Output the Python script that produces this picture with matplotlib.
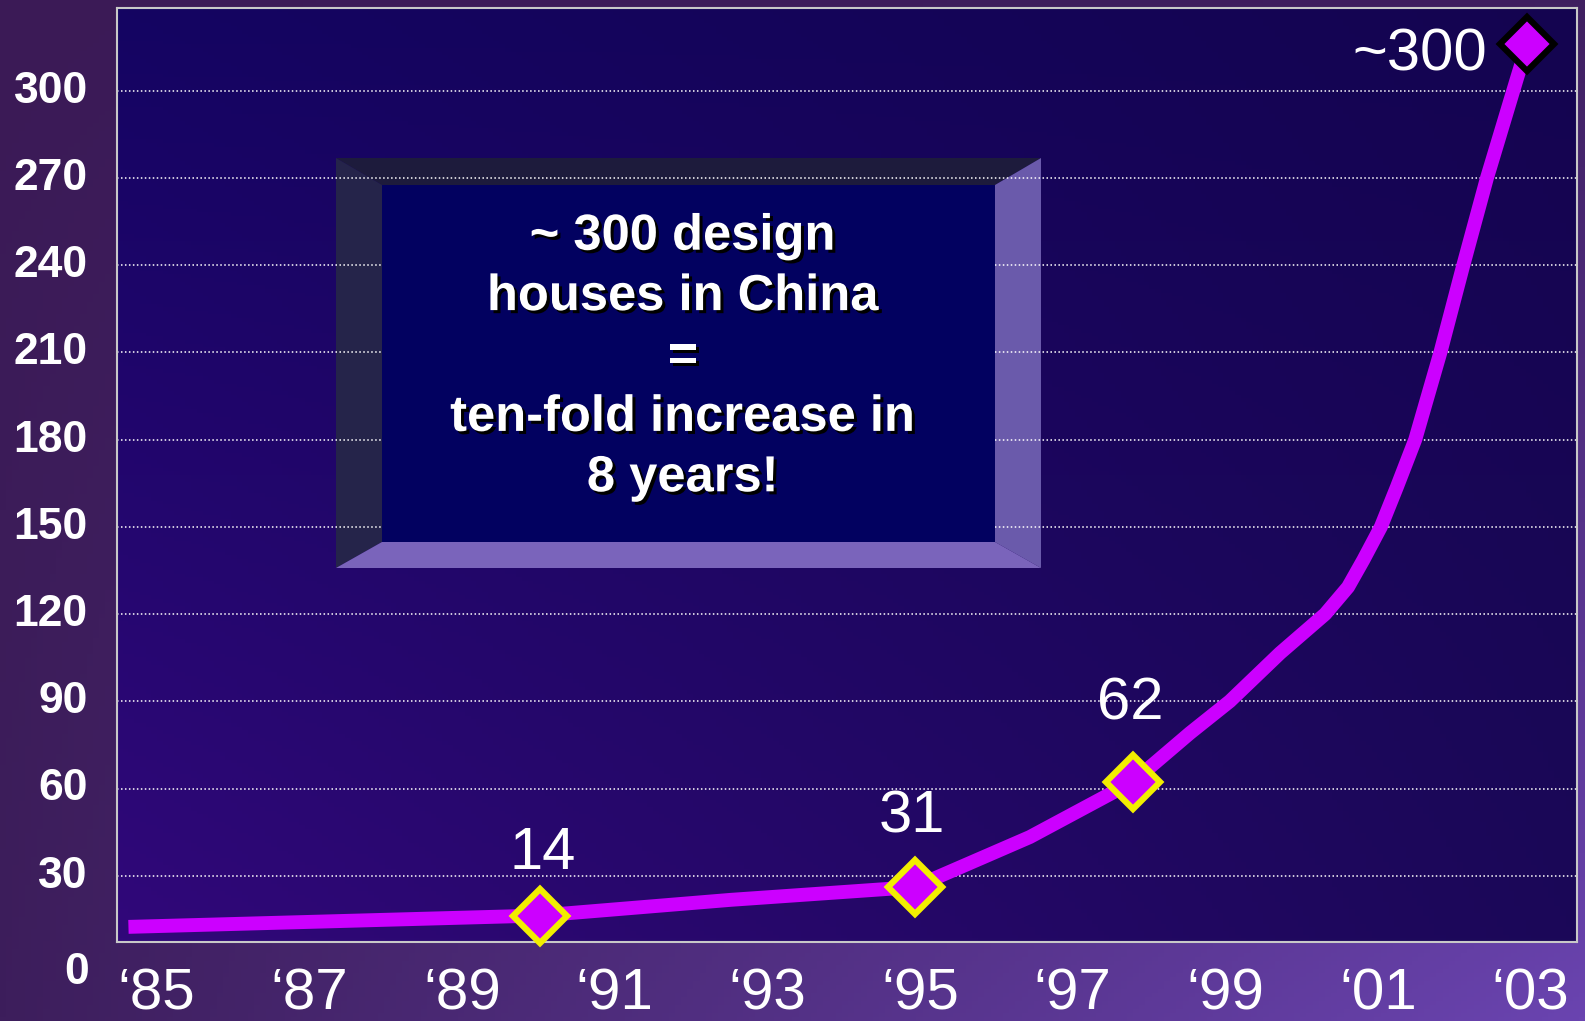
import numpy as np
import matplotlib.pyplot as plt
import matplotlib.patheffects as pe
from matplotlib.patches import Polygon
from matplotlib.colors import to_rgb
from matplotlib.transforms import blended_transform_factory, ScaledTranslation

plt.rcParams['font.family'] = ['Liberation Sans', 'DejaVu Sans']

# ---- data ----
x_tick_years = [1985, 1987, 1989, 1991, 1993, 1995, 1997, 1999, 2001, 2003]
x_tick_labels = ['\u201885', '\u201887', '\u201889', '\u201891', '\u201893',
                 '\u201895', '\u201897', '\u201899', '\u201801', '\u201803']
y_ticks = [30, 60, 90, 120, 150, 180, 210, 240, 270, 300]

# the drawn (smoothed) growth curve
curve_year = [1984.63, 1990.02, 1992.52, 1994.93, 1996.44, 1997.79, 1998.08,
              1998.54, 1999.06, 1999.72, 2000.31, 2000.61, 2000.81, 2001.04,
              2001.25, 2001.49, 2001.82, 2002.12, 2002.43, 2002.82, 2002.96]
curve_value = [12.4, 16.3, 21.7, 26.1, 43.3, 62.3, 68.8,
               79.1, 90.0, 106.6, 120.0, 129.3, 138.6, 150.0,
               163.7, 180.0, 210.0, 240.0, 270.0, 304.0, 316.0]

# highlighted points and their labels
marker_year = [1990.02, 1994.93, 1997.79, 2002.96]
marker_value = [16.0, 26.1, 62.3, 316.0]
marker_text = ['14', '31', '62', '~300']

box_text = '~ 300 design\nhouses in China\n=\nten-fold increase in\n8 years!'

# ---- figure ----
W, H = 1585, 1021
fig = plt.figure(figsize=(W / 100, H / 100), dpi=100)


def bilinear(tl, tr, bl, br, n=256):
    tl, tr, bl, br = (np.array(to_rgb(c)) for c in (tl, tr, bl, br))
    u = np.linspace(0, 1, n)[None, :, None]
    v = np.linspace(0, 1, n)[:, None, None]
    top = tl * (1 - u) + tr * u
    bot = bl * (1 - u) + br * u
    return top * (1 - v) + bot * v


# slide background
bg = fig.add_axes([0, 0, 1, 1], zorder=-1)
bg.imshow(bilinear('#3b1a56', '#3f1f60', '#3d1e5c', '#6a44b0'),
          extent=[0, 1, 0, 1], aspect='auto')
bg.axis('off')

# plot area in pixels (from top-left)
ax_l, ax_r, ax_t, ax_b = 117, 1577, 8, 942
ax = fig.add_axes([ax_l / W, 1 - ax_b / H, (ax_r - ax_l) / W, (ax_b - ax_t) / H])
ax.imshow(bilinear('#140462', '#140450', '#31087a', '#1b0858'),
          extent=[0, 1, 0, 1], transform=ax.transAxes, aspect='auto', zorder=0)

ax.set_xlim(1984.48, 2003.61)
ax.set_ylim(7.2, 328.5)

for s in ax.spines.values():
    s.set_color('#c8c8c8')
    s.set_linewidth(1.5)

ax.set_yticks(y_ticks)
ax.set_yticklabels([str(v) for v in y_ticks], fontsize=32, fontweight='bold', color='white')
ax.set_xticks(x_tick_years)
ax.set_xticklabels(x_tick_labels, fontsize=42, color='white')
ax.tick_params(axis='both', length=0)
ax.tick_params(axis='y', pad=21)
ax.tick_params(axis='x', pad=18)
ax.yaxis.grid(True, color='white', linestyle=(0, (1, 1.6)), linewidth=1.1)
ax.xaxis.grid(False)

# nudge the y labels up a little
nudge = ScaledTranslation(0, 3 / 72, fig.dpi_scale_trans)
for lbl in ax.get_yticklabels():
    lbl.set_transform(lbl.get_transform() + nudge)

# the "0" label sits below the frame
ax.text(-0.0192, -3.3, '0', transform=blended_transform_factory(ax.transAxes, ax.transData),
        ha='right', va='center', fontsize=32, fontweight='bold', color='white', clip_on=False)

# ---- bevelled text box ----
def fp(px, py):
    return (px / W, 1 - py / H)


o_l, o_t, o_r, o_b = 336, 158, 1041, 568
i_l, i_t, i_r, i_b = 382, 185, 995, 542
bevels = [
    ([fp(o_l, o_t), fp(o_r, o_t), fp(i_r, i_t), fp(i_l, i_t)], '#1d1b3c'),
    ([fp(o_l, o_t), fp(i_l, i_t), fp(i_l, i_b), fp(o_l, o_b)], '#25244a'),
    ([fp(o_r, o_t), fp(o_r, o_b), fp(i_r, i_b), fp(i_r, i_t)], '#6a5aab'),
    ([fp(o_l, o_b), fp(i_l, i_b), fp(i_r, i_b), fp(o_r, o_b)], '#7a64bb'),
]
for pts, col in bevels:
    ax.add_patch(Polygon(pts, closed=True, facecolor=col, edgecolor='none',
                         transform=fig.transFigure, zorder=1))
ax.add_patch(Polygon([fp(i_l, i_t), fp(i_r, i_t), fp(i_r, i_b), fp(i_l, i_b)], closed=True,
                     facecolor='#020160', edgecolor='none', transform=fig.transFigure, zorder=2))
ax.text(683 / W, 1 - 357 / H, box_text, transform=fig.transFigure, ha='center', va='center',
        multialignment='center', fontsize=36.5, fontweight='bold', color='white',
        linespacing=1.3, zorder=3,
        path_effects=[pe.withSimplePatchShadow(offset=(2.2, -2.2), shadow_rgbFace='black', alpha=1.0)])

# ---- curve and markers ----
ax.plot(curve_year, curve_value, color='#cc00ff', lw=10, solid_joinstyle='round',
        solid_capstyle='butt', zorder=4)

edge_cols = ['#f2ee00', '#f2ee00', '#f2ee00', 'black']
offsets = [(2, 34), (-2, 39), (-2, 45), (-29, -19)]
aligns = ['center', 'center', 'center', 'right']
for xv, yv, txt, ec, off, ha in zip(marker_year, marker_value, marker_text,
                                     edge_cols, offsets, aligns):
    ax.plot([xv], [yv], marker='D', ms=28, mfc='#cc00ff', mec=ec, mew=4.5,
            linestyle='none', zorder=5, clip_on=False)
    ax.annotate(txt, xy=(xv, yv), xytext=off, textcoords='offset points',
                ha=ha, va='baseline', fontsize=43, color='white', zorder=6)

fig.savefig('out.png', dpi=100)
